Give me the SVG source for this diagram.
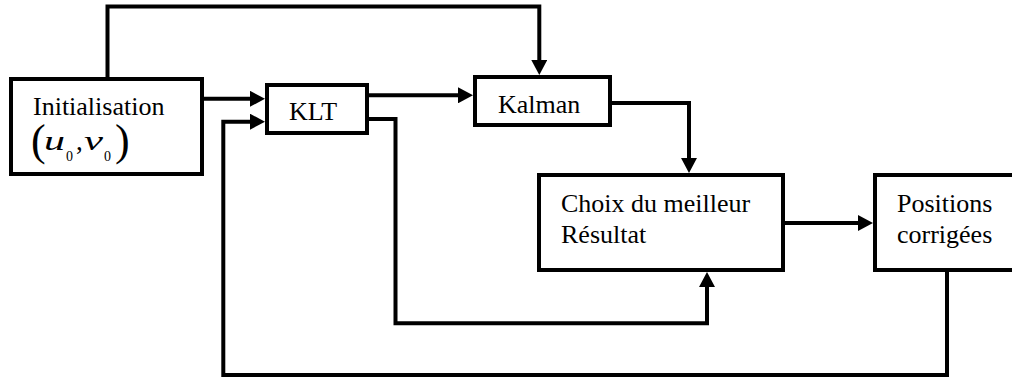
<svg xmlns="http://www.w3.org/2000/svg" width="1012" height="380" viewBox="0 0 1012 380">
  <style>
    .box { fill: #ffffff; stroke: #000000; stroke-width: 4; }
    text { font-family: 'Liberation Serif', 'Tinos', 'DejaVu Serif', serif; font-size: 26px; fill: #000000; }
    .it { font-style: italic; }
    .conn { fill: none; stroke: #000000; stroke-width: 4; stroke-linejoin: miter; marker-end: url(#arrow); }
  </style>
  <defs>
    <marker id="arrow" markerUnits="userSpaceOnUse" markerWidth="16" markerHeight="16" refX="1" refY="8" orient="auto">
      <path d="M0,0 L15,8 L0,16 z" fill="#000000"/>
    </marker>
  </defs>
  <rect width="1012" height="380" fill="#ffffff"/>

  <g id="connectors">
    <path class="conn" d="M107.5,77 V6.5 H539.3 V61"/>
    <path class="conn" d="M204,98.8 H251"/>
    <path class="conn" d="M369,95.3 H459"/>
    <path class="conn" d="M612,103 H689 V159"/>
    <path class="conn" d="M369,119 H395.5 V323.3 H707 V286"/>
    <path class="conn" d="M785,223 H859"/>
    <path class="conn" d="M947,272 V375 H223.3 V121.7 H251"/>
  </g>

  <g id="init">
    <rect class="box" x="11" y="79" width="191" height="95"/>
    <text x="33" y="114.5">Initialisation</text>
    <text x="31" y="155" style="font-size:44px">(</text>
    <text class="it" x="44" y="150" textLength="21" lengthAdjust="spacingAndGlyphs" style="font-size:28px">u</text>
    <text x="66" y="161" style="font-size:14px">0</text>
    <text x="76" y="150" style="font-size:27px">,</text>
    <text class="it" x="84" y="150" textLength="19" lengthAdjust="spacingAndGlyphs" style="font-size:28px">v</text>
    <text x="104" y="161" style="font-size:14px">0</text>
    <text x="115" y="155" style="font-size:44px">)</text>
  </g>

  <g id="klt">
    <rect class="box" x="267" y="85" width="100" height="48"/>
    <text x="289" y="120">KLT</text>
  </g>

  <g id="kalman">
    <rect class="box" x="475" y="77" width="135" height="48"/>
    <text x="498" y="113">Kalman</text>
  </g>

  <g id="choix">
    <rect class="box" x="539" y="175" width="244" height="95"/>
    <text x="561" y="212">Choix du meilleur</text>
    <text x="561" y="243">Résultat</text>
  </g>

  <g id="positions">
    <rect class="box" x="875" y="175" width="160" height="95"/>
    <text x="897" y="212">Positions</text>
    <text x="897" y="243">corrigées</text>
  </g>
</svg>
